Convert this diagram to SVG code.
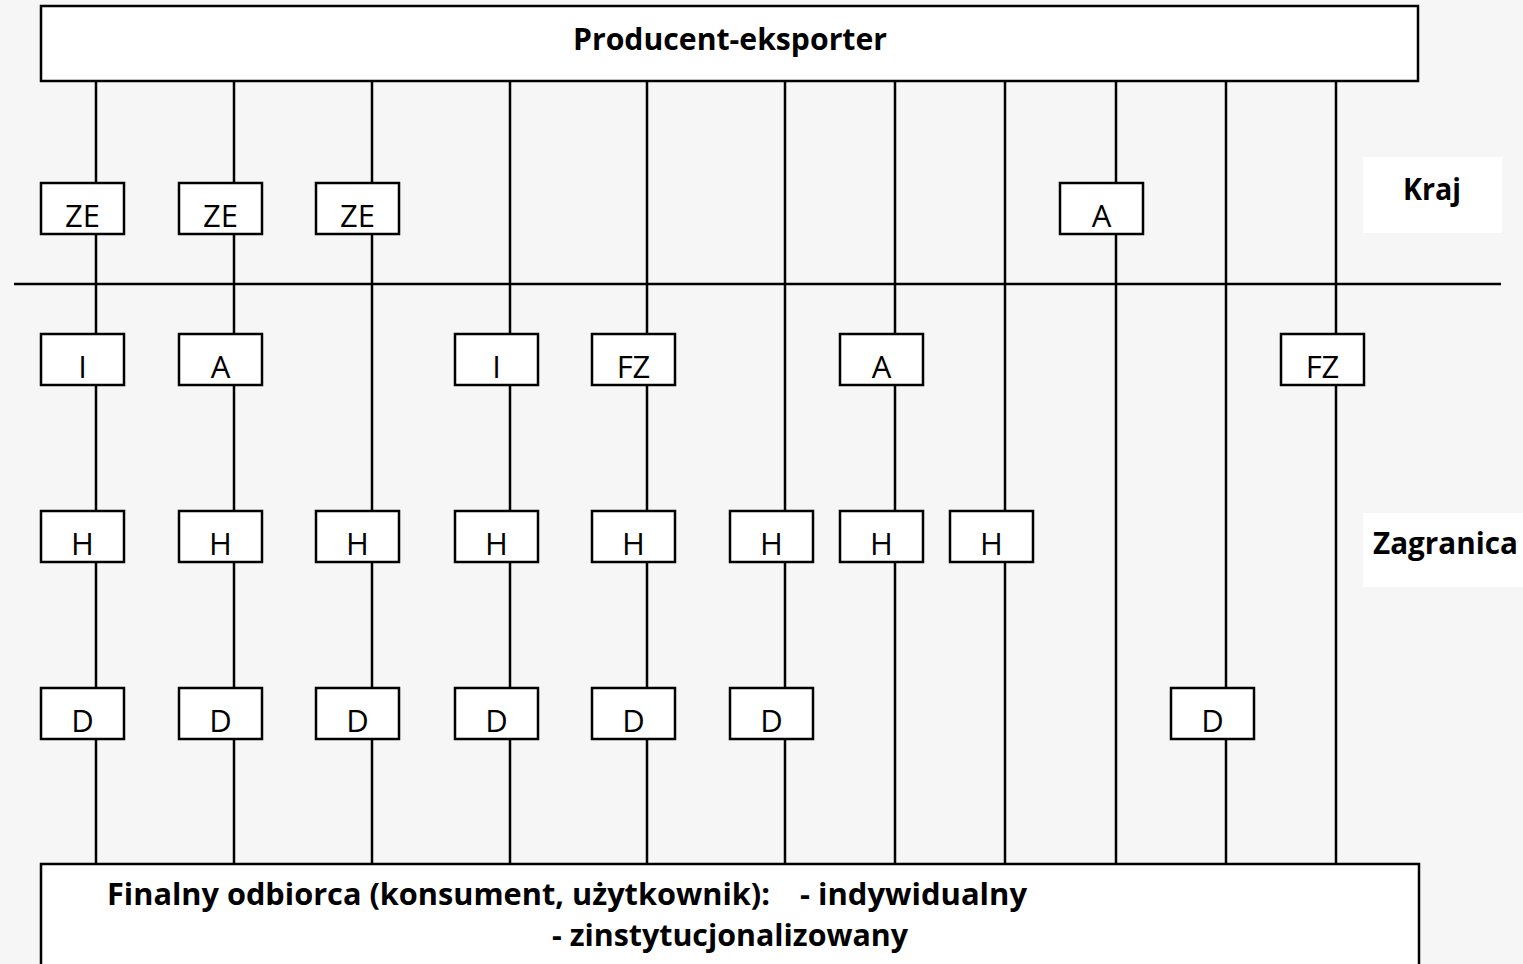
<svg xmlns="http://www.w3.org/2000/svg" width="1523" height="964" viewBox="0 0 1523 964">
<style>
.bg{fill:#f6f6f6}
.lbl-bg{fill:#ffffff}
.box{fill:#ffffff;stroke:#000;stroke-width:2.5}
.conn line{stroke:#000;stroke-width:2.5}
.t{font-family:"Open Sans","Liberation Sans",sans-serif;font-size:31px;fill:#000;text-anchor:middle}
.b{font-family:"Open Sans","Liberation Sans",sans-serif;font-size:31px;font-weight:bold;fill:#000}
</style>
<rect class="bg" x="0" y="0" width="1523" height="964"/>
<rect class="lbl-bg" x="1363" y="157" width="139" height="76"/>
<rect class="lbl-bg" x="1363" y="513" width="160" height="74"/>
<g id="connectors" class="conn">
<line x1="96" y1="81" x2="96" y2="864"/>
<line x1="234" y1="81" x2="234" y2="864"/>
<line x1="372" y1="81" x2="372" y2="864"/>
<line x1="510" y1="81" x2="510" y2="864"/>
<line x1="647" y1="81" x2="647" y2="864"/>
<line x1="785" y1="81" x2="785" y2="864"/>
<line x1="895" y1="81" x2="895" y2="864"/>
<line x1="1005" y1="81" x2="1005" y2="864"/>
<line x1="1116" y1="81" x2="1116" y2="864"/>
<line x1="1226" y1="81" x2="1226" y2="864"/>
<line x1="1336" y1="81" x2="1336" y2="864"/>
<line x1="14" y1="284" x2="1501" y2="284"/>
</g>
<g id="producer"><rect class="box" x="41" y="6" width="1377" height="75"/><text class="b" x="573" y="50" textLength="314" lengthAdjust="spacingAndGlyphs">Producent-eksporter</text></g>
<g id="consumer"><rect class="box" x="41" y="864" width="1378" height="112"/>
<text class="b" y="905"><tspan x="107" textLength="663" lengthAdjust="spacingAndGlyphs">Finalny odbiorca (konsument, użytkownik):</tspan><tspan x="800" textLength="227" lengthAdjust="spacingAndGlyphs">- indywidualny</tspan></text>
<text class="b" x="552" y="946" textLength="356" lengthAdjust="spacingAndGlyphs">- zinstytucjonalizowany</text></g>
<g id="label-kraj"><text class="b" x="1403" y="200" textLength="58" lengthAdjust="spacingAndGlyphs">Kraj</text></g>
<g id="label-zagranica"><text class="b" x="1373" y="554" textLength="145" lengthAdjust="spacingAndGlyphs">Zagranica</text></g>
<g id="ze1"><rect class="box" x="41" y="183" width="83" height="51"/><text class="t" x="82.5" y="227">ZE</text></g>
<g id="ze2"><rect class="box" x="179" y="183" width="83" height="51"/><text class="t" x="220.5" y="227">ZE</text></g>
<g id="ze3"><rect class="box" x="316" y="183" width="83" height="51"/><text class="t" x="357.5" y="227">ZE</text></g>
<g id="a-kraj"><rect class="box" x="1060" y="183" width="83" height="51"/><text class="t" x="1101.5" y="227">A</text></g>
<g id="i1"><rect class="box" x="41" y="334" width="83" height="51"/><text class="t" x="82.5" y="378">I</text></g>
<g id="a1"><rect class="box" x="179" y="334" width="83" height="51"/><text class="t" x="220.5" y="378">A</text></g>
<g id="i2"><rect class="box" x="455" y="334" width="83" height="51"/><text class="t" x="496.5" y="378">I</text></g>
<g id="fz1"><rect class="box" x="592" y="334" width="83" height="51"/><text class="t" x="633.5" y="378">FZ</text></g>
<g id="a2"><rect class="box" x="840" y="334" width="83" height="51"/><text class="t" x="881.5" y="378">A</text></g>
<g id="fz2"><rect class="box" x="1281" y="334" width="83" height="51"/><text class="t" x="1322.5" y="378">FZ</text></g>
<g id="h1"><rect class="box" x="41" y="511" width="83" height="51"/><text class="t" x="82.5" y="555">H</text></g>
<g id="h2"><rect class="box" x="179" y="511" width="83" height="51"/><text class="t" x="220.5" y="555">H</text></g>
<g id="h3"><rect class="box" x="316" y="511" width="83" height="51"/><text class="t" x="357.5" y="555">H</text></g>
<g id="h4"><rect class="box" x="455" y="511" width="83" height="51"/><text class="t" x="496.5" y="555">H</text></g>
<g id="h5"><rect class="box" x="592" y="511" width="83" height="51"/><text class="t" x="633.5" y="555">H</text></g>
<g id="h6"><rect class="box" x="730" y="511" width="83" height="51"/><text class="t" x="771.5" y="555">H</text></g>
<g id="h7"><rect class="box" x="840" y="511" width="83" height="51"/><text class="t" x="881.5" y="555">H</text></g>
<g id="h8"><rect class="box" x="950" y="511" width="83" height="51"/><text class="t" x="991.5" y="555">H</text></g>
<g id="d1"><rect class="box" x="41" y="688" width="83" height="51"/><text class="t" x="82.5" y="732">D</text></g>
<g id="d2"><rect class="box" x="179" y="688" width="83" height="51"/><text class="t" x="220.5" y="732">D</text></g>
<g id="d3"><rect class="box" x="316" y="688" width="83" height="51"/><text class="t" x="357.5" y="732">D</text></g>
<g id="d4"><rect class="box" x="455" y="688" width="83" height="51"/><text class="t" x="496.5" y="732">D</text></g>
<g id="d5"><rect class="box" x="592" y="688" width="83" height="51"/><text class="t" x="633.5" y="732">D</text></g>
<g id="d6"><rect class="box" x="730" y="688" width="83" height="51"/><text class="t" x="771.5" y="732">D</text></g>
<g id="d7"><rect class="box" x="1171" y="688" width="83" height="51"/><text class="t" x="1212.5" y="732">D</text></g>
</svg>
